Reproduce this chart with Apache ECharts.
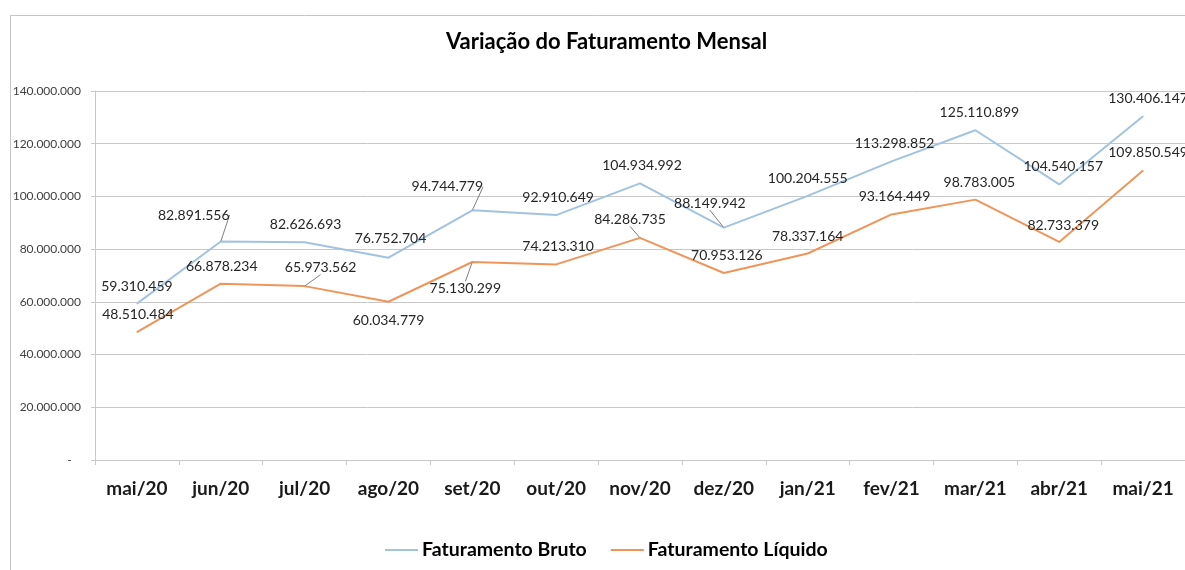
<!DOCTYPE html>
<html>
<head>
<meta charset="utf-8">
<script src="https://cdn.jsdelivr.net/npm/echarts@6/dist/echarts.min.js"></script>
<style>
  html, body { margin: 0; padding: 0; background: #fff; }
  #chart { width: 1185px; height: 570px; }
</style>
</head>
<body>
<div id="chart"></div>
<script>
var meses = ['mai/20', 'jun/20', 'jul/20', 'ago/20', 'set/20', 'out/20', 'nov/20', 'dez/20', 'jan/21', 'fev/21', 'mar/21', 'abr/21', 'mai/21'];
var bruto = [59310459, 82891556, 82626693, 76752704, 94744779, 92910649, 104934992, 88149942, 100204555, 113298852, 125110899, 104540157, 130406147];
var liquido = [48510484, 66878234, 65973562, 60034779, 75130299, 74213310, 84286735, 70953126, 78337164, 93164449, 98783005, 82733379, 109850549];

// deslocamento dos rótulos (dx, dy) em relação à posição "top"
var desvioBruto = [[0,0],[-27,-9],[1,0],[2,-2],[-25,-6],[2,0],[2,0],[-14,-7],[0,0],[3,0],[4,0],[4,0],[5,0]];
var desvioLiquido = [[1,0],[1,0],[16,-1],[0,36],[-7,44],[2,0],[-10,-1],[3,0],[0,0],[3,0],[4,0],[4,1],[5,0]];
var comLinhaBruto = [1, 4, 7];
var comLinhaLiquido = [2, 4, 6];

function fmt(v) {
  if (v === 0) return '-   ';
  return String(Math.round(v)).replace(/\B(?=(\d{3})+(?!\d))/g, '.');
}

function montaDados(valores, linhas) {
  return valores.map(function (v, i) {
    var item = { value: v };
    if (linhas.indexOf(i) >= 0) item.labelLine = { show: true };
    return item;
  });
}

var fonte = 'Lato, "Open Sans", sans-serif';

var option = {
  animation: false,
  title: {
    text: 'Variação do Faturamento Mensal',
    left: 441,
    top: 26,
    textStyle: { fontFamily: fonte, fontSize: 22, fontWeight: 'bold', color: '#000' }
  },
  graphic: [{
    type: 'rect',
    left: 8, top: 13,
    shape: { width: 1250, height: 620 },
    style: { fill: 'none', stroke: '#c4c4c4', lineWidth: 1 },
    silent: true
  }],
  legend: {
    bottom: 5,
    left: 380,
    itemWidth: 33,
    itemHeight: 2,
    itemGap: 24,
    icon: 'rect',
    textStyle: { fontFamily: fonte, fontSize: 19.5, fontWeight: 'bold', color: '#000', padding: [0, 0, 0, -1] },
    data: ['Faturamento Bruto', 'Faturamento Líquido']
  },
  grid: { left: 95, top: 91, width: 1092, height: 369 },
  xAxis: {
    type: 'category',
    data: meses,
    boundaryGap: true,
    axisLine: { lineStyle: { color: '#c8c8c8', width: 1 } },
    axisTick: { show: true, length: 5, lineStyle: { color: '#c8c8c8' } },
    axisLabel: { fontFamily: fonte, fontSize: 19, fontWeight: 'bold', color: '#1a1a1a', margin: 19 }
  },
  yAxis: {
    type: 'value',
    min: 0, max: 140000000, interval: 20000000,
    axisLine: { show: true, lineStyle: { color: '#c8c8c8', width: 1 } },
    axisTick: { show: true, length: 4, lineStyle: { color: '#c8c8c8' } },
    splitLine: { lineStyle: { color: '#c8c8c8', width: 1 } },
    axisLabel: { fontFamily: fonte, fontSize: 12, color: '#404040', margin: 14, formatter: fmt }
  },
  series: [
    {
      name: 'Faturamento Bruto',
      type: 'line',
      data: montaDados(bruto, comLinhaBruto),
      symbol: 'circle',
      symbolSize: 1,
      showSymbol: true,
      lineStyle: { color: '#a2c2e2', width: 2 },
      itemStyle: { color: '#a2c2e2' },
      label: {
        show: true, position: 'top', distance: 10,
        fontFamily: fonte, fontSize: 14, color: '#262626',
        formatter: function (p) { return fmt(p.value); }
      },
      labelLine: { show: false, lineStyle: { color: '#7f7f7f', width: 1 } },
      labelLayout: function (p) {
        var d = desvioBruto[p.dataIndex];
        return { dx: d[0], dy: d[1] };
      }
    },
    {
      name: 'Faturamento Líquido',
      type: 'line',
      data: montaDados(liquido, comLinhaLiquido),
      symbol: 'circle',
      symbolSize: 1,
      showSymbol: true,
      lineStyle: { color: '#f0955a', width: 2 },
      itemStyle: { color: '#f0955a' },
      label: {
        show: true, position: 'top', distance: 10,
        fontFamily: fonte, fontSize: 14, color: '#262626',
        formatter: function (p) { return fmt(p.value); }
      },
      labelLine: { show: false, lineStyle: { color: '#7f7f7f', width: 1 } },
      labelLayout: function (p) {
        var d = desvioLiquido[p.dataIndex];
        return { dx: d[0], dy: d[1] };
      }
    }
  ]
};

echarts.init(document.getElementById('chart')).setOption(option);
</script>
</body>
</html>
